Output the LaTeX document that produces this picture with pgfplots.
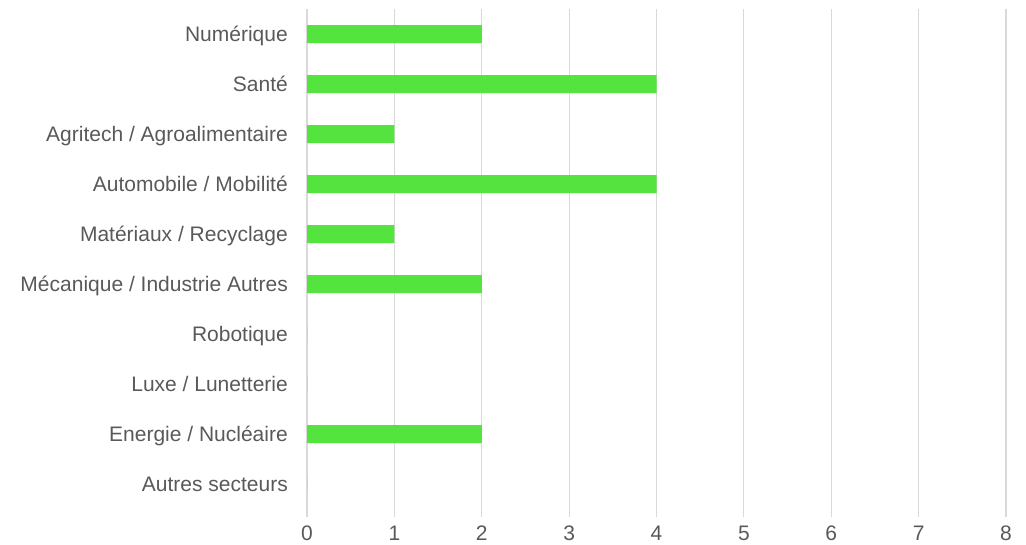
\documentclass[border=0pt]{standalone}
\usepackage{pgfplots}
\pgfplotsset{compat=1.18}
\usepackage{fontspec}
\setmainfont{Liberation Sans}
\definecolor{barg}{HTML}{55E340}
\definecolor{txt}{HTML}{595959}
\definecolor{grd}{HTML}{D9D9D9}
\begin{document}
\begin{tikzpicture}[x=1pt,y=1pt]
\useasboundingbox (0,0) rectangle (1026,544);
\begin{axis}[
  at={(307pt,27pt)}, anchor=south west,
  scale only axis, width=699pt, height=508pt,
  xbar, bar width=18pt,
  xmin=0, xmax=8, xtick={0,1,...,8},
  ymin=-0.5, ymax=9.66, y dir=reverse,
  ytick={0,...,9},
  yticklabels={Numérique, Santé, Agritech / Agroalimentaire, Automobile / Mobilité, Matériaux / Recyclage, Mécanique / Industrie Autres, Robotique\ , Luxe / Lunetterie, Energie / Nucléaire\ , Autres secteurs},
  axis line style={draw=none},
  major tick length=0pt,
  xmajorgrids=true,
  major grid style={grd, line width=1.2pt},
  tick label style={font=\fontsize{21}{24}\selectfont, text=txt},
  yticklabel style={anchor=base east, inner sep=0pt, xshift=-19pt, yshift=-7.5pt},
  xticklabel style={anchor=north, inner sep=0pt, yshift=-9pt},
  /pgf/number format/assume math mode=true,
  clip=false,
]
\addplot[fill=barg, draw=none] coordinates {
 (2,0) (4,1) (1,2) (4,3) (1,4) (2,5) (0,6) (0,7) (2,8) (0,9)
};
\end{axis}
\end{tikzpicture}
\end{document}
